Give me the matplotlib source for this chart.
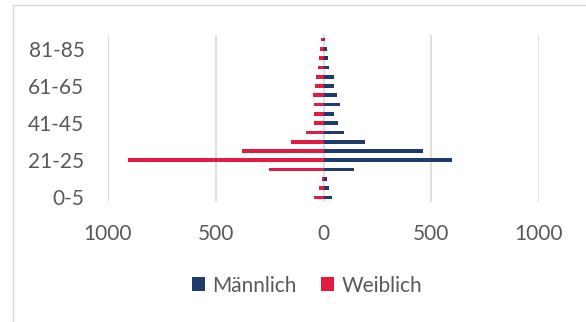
import matplotlib.pyplot as plt
import numpy as np
from matplotlib.patches import Rectangle
from matplotlib.ticker import FuncFormatter

# age groups, youngest first
age_groups = [
    "0-5", "6-10", "11-15", "16-20", "21-25", "26-30", "31-35", "36-40",
    "41-45", "46-50", "51-55", "56-60", "61-65", "66-70", "71-75", "76-80",
    "81-85", "86-90",
]
maennlich = [39, 26, 17, 142, 598, 461, 194, 97, 68, 48, 76, 62, 51, 51, 25, 22, 15, 9]
weiblich = [43, 20, 8, 252, 905, 377, 153, 79, 43, 45, 42, 49, 39, 34, 25, 20, 15, 11]
x_ticks = [-1000, -500, 0, 500, 1000]

BLUE = "#1F3A6C"
RED = "#E31B43"
GREY_TEXT = "#595959"
GRID = "#D9D9D9"
FS = 15

plt.rcParams["font.family"] = ["Lato", "DejaVu Sans"]
W, H = 586, 322
fig = plt.figure(figsize=(W / 100, H / 100), dpi=100)

# chart frame, cut off at right and bottom
fig.patches.append(Rectangle((12.5 / W, -0.1), 1.2, (H - 5.5) / H + 0.1,
                             transform=fig.transFigure, fill=False,
                             edgecolor=GRID, linewidth=1.0))

ax = fig.add_axes([108 / W, (H - 202) / H, 431 / W, 167 / H])
y = np.arange(len(age_groups))
ax.barh(y, maennlich, height=0.4, color=BLUE, label="Männlich", zorder=3)
ax.barh(y, -np.array(weiblich), height=0.4, color=RED, label="Weiblich", zorder=3)

ax.set_xlim(-1000, 1000)
ax.set_ylim(-0.5, len(age_groups) - 0.5)
ax.set_xticks(x_ticks)
ax.xaxis.set_major_formatter(FuncFormatter(lambda v, p: f"{abs(int(v))}"))
ax.set_yticks(y[::4])
ax.set_yticklabels(age_groups[::4])
ax.grid(axis="x", color=GRID, linewidth=1.2, zorder=0)
for s in ax.spines.values():
    s.set_visible(False)
ax.tick_params(axis="both", length=0, labelsize=FS, labelcolor=GREY_TEXT)
ax.tick_params(axis="y", pad=17)
ax.tick_params(axis="x", pad=16)

fig.legend(loc="center", bbox_to_anchor=(307 / W, 1 - 285.7 / H), ncol=2,
           frameon=False, fontsize=FS, labelcolor=GREY_TEXT,
           handlelength=0.65, handleheight=0.65, handletextpad=0.35,
           columnspacing=1.15, borderaxespad=0)

fig.savefig("out.png", dpi=100)
